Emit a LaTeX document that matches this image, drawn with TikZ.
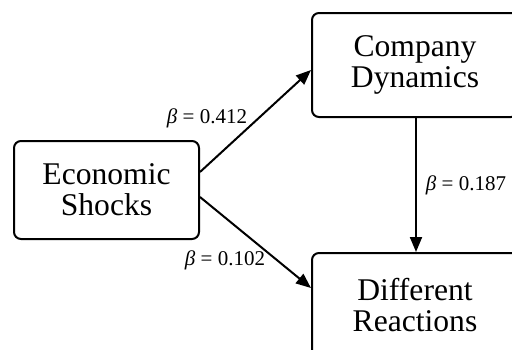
\documentclass[tikz,border=0pt]{standalone}
\usepackage{fontspec}
\setmainfont{Liberation Serif}
\usetikzlibrary{arrows.meta,calc}
\begin{document}
\begin{tikzpicture}[x=0.5pt,y=-0.5pt,
  box/.style={draw=black,line width=1pt,rounded corners=3.5pt,fill=white,align=center,
    font=\fontsize{15.8}{15.5}\selectfont,inner sep=0pt},
  conn/.style={line width=1pt,-{Triangle[length=7.5pt,width=6pt]}},
  coef/.style={font=\fontsize{10.5}{12}\selectfont,inner sep=1pt}]
\useasboundingbox (0,0) rectangle (512,349);
\clip (0,0) rectangle (512,349);
\node[box,minimum width=92.5pt,minimum height=49pt] (es) at (106.5,190) {Economic\\Shocks};
\node[box,minimum width=103pt,minimum height=52pt] (cd) at (415,65) {Company\\Dynamics};
\node[box,minimum width=103pt,minimum height=52pt] (dr) at (415,305) {Different\\Reactions};
\coordinate (s1) at (es.east |- 0,172);
\coordinate (s2) at (es.east |- 0,197);
\coordinate (t1) at (cd.west |- 0,70);
\coordinate (t2) at (dr.west |- 0,288);
\draw[conn] (s1) -- (t1);
\draw[conn] (s2) -- (t2);
\draw[conn] (cd.south -| 416,0) -- (dr.north -| 416,0);
\node[coef] (l1) at (207,118) {\textit{β} = 0.412};
\node[coef] (l2) at (225,260) {\textit{β} = 0.102};
\node[coef] (l3) at (466,185) {\textit{β} = 0.187};
\end{tikzpicture}
\end{document}
